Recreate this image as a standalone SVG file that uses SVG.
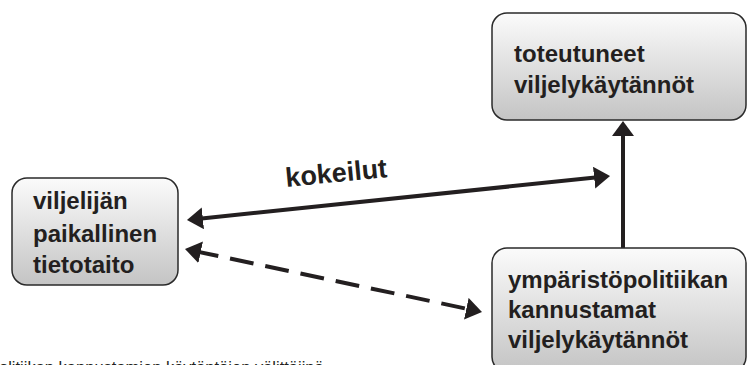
<svg xmlns="http://www.w3.org/2000/svg" width="752" height="365" viewBox="0 0 752 365">
<defs>
<linearGradient id="boxfill" x1="0" y1="0" x2="0" y2="1">
<stop offset="0" stop-color="#fbfbfb"/>
<stop offset="1" stop-color="#c4c4c4"/>
</linearGradient>
<marker id="ah" markerUnits="userSpaceOnUse" viewBox="0 0 16 22" markerWidth="16" markerHeight="22" refX="6" refY="11" orient="auto-start-reverse">
<path d="M0,0 L16,11 L0,22 z" fill="#231f20"/>
</marker>
<marker id="ahv" markerUnits="userSpaceOnUse" viewBox="0 0 15 22" markerWidth="15" markerHeight="22" refX="5" refY="11" orient="auto">
<path d="M0,0 L15,11 L0,22 z" fill="#231f20"/>
</marker>
</defs>
<style>
.box{fill:url(#boxfill);stroke:#2a2a2a;stroke-width:1.5}
.lbl{font-family:"Liberation Sans",Arial,sans-serif;font-weight:bold;font-size:24px;fill:#231f20}
.conn{stroke:#231f20;stroke-width:4;fill:none}
</style>
<rect width="752" height="365" fill="#ffffff"/>
<g id="connectors">
<line class="conn" x1="196.9" y1="219.0" x2="600.1" y2="177.0" marker-start="url(#ah)" marker-end="url(#ah)"/>
<line class="conn" x1="623" y1="248" x2="623" y2="131" marker-end="url(#ahv)"/>
<line class="conn" x1="194.8" y1="251.1" x2="472.2" y2="309.9" stroke-dasharray="24 12" marker-start="url(#ah)" marker-end="url(#ah)"/>
<text class="lbl" font-size="27" style="font-size:27px" x="337" y="182" text-anchor="middle" transform="rotate(-5.5 337 182)">kokeilut</text>
</g>
<g id="node-viljelija">
<rect class="box" x="12" y="178" width="166" height="107" rx="15" ry="15"/>
<text class="lbl" x="33" y="209">viljelijän</text>
<text class="lbl" x="33" y="242">paikallinen</text>
<text class="lbl" x="33" y="273">tietotaito</text>
</g>
<g id="node-toteutuneet">
<rect class="box" x="492" y="13" width="254" height="107" rx="15" ry="15"/>
<text class="lbl" x="514" y="62">toteutuneet</text>
<text class="lbl" x="514" y="93">viljelykäytännöt</text>
</g>
<g id="node-ymparistopolitiikan">
<rect class="box" x="492" y="248" width="254" height="124" rx="15" ry="15"/>
<text class="lbl" x="508" y="288">ympäristöpolitiikan</text>
<text class="lbl" x="508" y="318">kannustamat</text>
<text class="lbl" x="508" y="348">viljelykäytännöt</text>
</g>
<text x="-1" y="373" font-family="Liberation Sans, Arial, sans-serif" font-size="16.5" fill="#231f20">olitiikan kannustamien käytäntöjen välittäjinä</text>
</svg>
